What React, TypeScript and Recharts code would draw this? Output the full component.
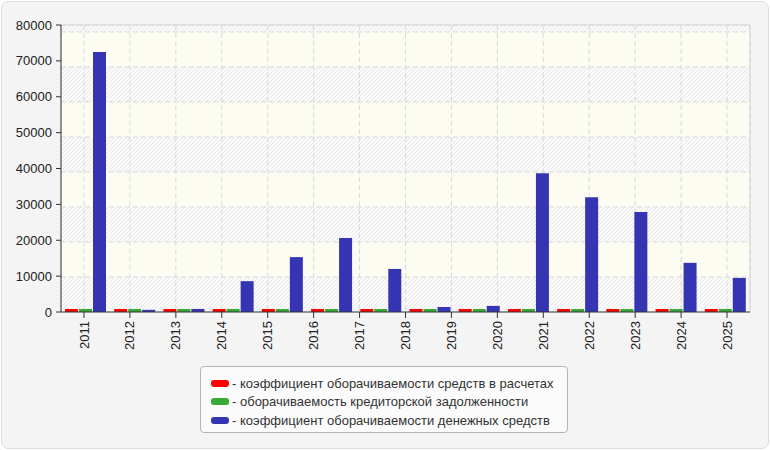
import React from "react";
import { BarChart, Bar, XAxis, YAxis, CartesianGrid, ReferenceLine } from "recharts";

// подписи оси X (15 лет) и периоды самих столбцов (14 групп)
const yearLabels = ["2011", "2012", "2013", "2014", "2015", "2016", "2017", "2018", "2019", "2020", "2021", "2022", "2023", "2024", "2025"];
const periods = ["2011", "2012", "2013", "2014", "2015", "2016", "2017", "2018", "2019", "2020", "2021", "2022", "2023", "2024"];

const receivablesTurnover = [8.6, 7.9, 9.2, 8.1, 7.4, 8.8, 9.5, 7.7, 8.3, 9.1, 8.0, 7.6, 8.9, 8.4];
const payablesTurnover = [6.2, 5.8, 6.9, 6.4, 5.5, 6.1, 7.0, 5.9, 6.6, 6.3, 5.7, 6.8, 6.0, 6.5];
const cashTurnover = [72500, 600, 850, 8600, 15300, 20600, 12000, 1400, 1700, 38700, 32000, 27900, 13700, 9500];

const yTicks = [0, 10000, 20000, 30000, 40000, 50000, 60000, 70000, 80000];
const yearTicks = [0.5, 1.5, 2.5, 3.5, 4.5, 5.5, 6.5, 7.5, 8.5, 9.5, 10.5, 11.5, 12.5, 13.5, 14.5];

const series = [
  { key: "receivables", color: "#ff0000", name: "коэффициент оборачиваемости средств в расчетах" },
  { key: "payables", color: "#36a936", name: "оборачиваемость кредиторской задолженности" },
  { key: "cash", color: "#3535b3", name: "коэффициент оборачиваемости денежных средств" },
];

const data = periods.map((period, i) => ({
  period,
  receivables: receivablesTurnover[i],
  payables: payablesTurnover[i],
  cash: cashTurnover[i],
}));

const YearTick = (props: any) => {
  const { x, y, payload } = props;
  const label = yearLabels[Math.floor(payload.value)];
  return (
    <text
      x={x}
      y={y}
      transform={`rotate(-90 ${x} ${y})`}
      textAnchor="end"
      dy="0.35em"
      fontSize={13}
      fill="#222"
    >
      {label}
    </text>
  );
};

// полосы фона идут через 35px от нуля вверх
const gridRows = ({ offset }: any) => {
  const bottom = offset.top + offset.height;
  const rows = [offset.top];
  for (let k = 8; k >= 1; k--) rows.push(bottom - k * 35);
  return rows;
};

const Legend = () => (
  <div
    style={{
      position: "absolute",
      left: 200,
      top: 366,
      width: 368,
      height: 67,
      border: "1px solid #b4b4b4",
      borderRadius: 4,
      background: "#fbfbfb",
      boxSizing: "border-box",
      paddingTop: 7,
      paddingLeft: 10,
    }}
  >
    {series.map((s) => (
      <div key={s.key} style={{ display: "flex", alignItems: "center", height: 18.5, fontSize: 13, color: "#333" }}>
        <span style={{ display: "inline-block", width: 18, height: 7, borderRadius: 3, background: s.color, marginRight: 3 }} />
        <span>- {s.name}</span>
      </div>
    ))}
  </div>
);

export default function App() {
  return (
    <div
      style={{
        position: "absolute",
        left: 0,
        top: 0,
        width: 770,
        height: 450,
        background: "#fff",
        fontFamily: "'Liberation Sans', Arial, sans-serif",
      }}
    >
      <div
        style={{
          position: "absolute",
          left: 1,
          top: 1,
          width: 768,
          height: 448,
          boxSizing: "border-box",
          border: "1px solid #dedede",
          borderRadius: 7,
          background: "#f4f4f4",
        }}
      />
      <div style={{ position: "absolute", left: 0, top: 0 }}>
        <BarChart
          width={770}
          height={450}
          data={data}
          margin={{ top: 25, right: 20, bottom: 93, left: 0 }}
          barCategoryGap={4}
          barGap={1}
        >
          <defs>
            <pattern id="hatch" patternUnits="userSpaceOnUse" width={4} height={4}>
              <rect width={4} height={4} fill="#fafafa" />
              <path d="M0,4 L4,0 M-1,1 L1,-1 M3,5 L5,3" stroke="#e8e8e8" strokeWidth={1} />
            </pattern>
          </defs>
          <CartesianGrid
            xAxisId="years"
            stroke="#d9d9d9"
            strokeDasharray="5 3"
            horizontalCoordinatesGenerator={gridRows}
            horizontalFill={["url(#hatch)", "#fcfcf3"]}
            fillOpacity={1}
          />
          <XAxis
            xAxisId="years"
            dataKey="yearSlot"
            type="number"
            domain={[0, 15]}
            allowDataOverflow
            ticks={yearTicks}
            interval={0}
            height={45}
            tickSize={6}
            tickMargin={3}
            stroke="#333"
            tick={<YearTick />}
          />
          <XAxis xAxisId="bars" dataKey="period" hide height={0} />
          <YAxis
            domain={[0, 80000]}
            ticks={yTicks}
            width={61}
            tickSize={5}
            tickMargin={4}
            stroke="#333"
            tick={{ fontSize: 13, fill: "#222" }}
            interval={0}
          />
          <ReferenceLine y={80000} stroke="#d6d6d6" xAxisId="years" />
          <ReferenceLine x={15} stroke="#d6d6d6" xAxisId="years" />
          {series.map((s) => (
            <Bar
              key={s.key}
              xAxisId="bars"
              dataKey={s.key}
              name={s.name}
              fill={s.color}
              minPointSize={s.key === "cash" ? 0 : 3}
              isAnimationActive={false}
            />
          ))}
        </BarChart>
      </div>
      <Legend />
    </div>
  );
}
